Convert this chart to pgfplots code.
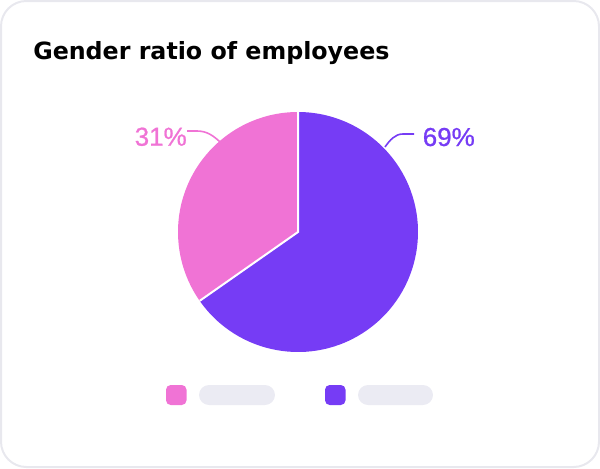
\documentclass[border=0pt]{standalone}
\usepackage{pgfplots}
\pgfplotsset{compat=1.18}
\usepackage{pgfplotstable}
\usepackage{fontspec}
\setmainfont{Liberation Sans}
\newfontfamily\titlefont{DejaVu Sans}
\newfontfamily\labelfont[FakeBold=0.8]{Liberation Sans}
\definecolor{pinkc}{HTML}{F073D5}
\definecolor{purplec}{HTML}{763CF5}
\definecolor{greybar}{HTML}{EBEBF3}
\definecolor{cardline}{HTML}{E8E8EE}
% slice boundaries (degrees, counter-clockwise from the x axis) as drawn
\pgfplotstableread{
label  share start end
Female 31    90    215
Male   69    215   450
}\slices
\pgfplotstablegetelem{0}{start}\of\slices \let\sa\pgfplotsretval
\pgfplotstablegetelem{0}{end}\of\slices \let\ea\pgfplotsretval
\pgfplotstablegetelem{1}{start}\of\slices \let\sb\pgfplotsretval
\pgfplotstablegetelem{1}{end}\of\slices \let\eb\pgfplotsretval
\begin{document}
\begin{tikzpicture}
\begin{scope}[x=0.75pt,y=-0.75pt]
\useasboundingbox (0,0) rectangle (600,468);
\draw[cardline, line width=1.5pt, rounded corners=19pt] (1,1) rectangle (599,467);
\end{scope}
\begin{axis}[
  hide axis, clip=false, scale only axis,
  width=180pt, height=180pt,
  xmin=-1, xmax=1, ymin=-1, ymax=1,
  at={(223.5pt,-174pt)}, anchor=origin]
\fill[pinkc] (axis cs:0,0) -- (axis cs:{cos(\sa)},{sin(\sa)}) arc[start angle=\sa, end angle=\ea, radius=90pt] -- cycle;
\fill[purplec] (axis cs:0,0) -- (axis cs:{cos(\sb)},{sin(\sb)}) arc[start angle=\sb, end angle=\eb, radius=90pt] -- cycle;
\draw[white, line width=1.5pt] (axis cs:{cos(\sa)},{sin(\sa)}) -- (axis cs:0,0) -- (axis cs:{cos(\ea)},{sin(\ea)});
\end{axis}
\begin{scope}[x=0.75pt,y=-0.75pt]
\node[anchor=base west, inner sep=0pt, font=\titlefont\bfseries\fontsize{17.8pt}{20pt}\selectfont] at (33,59.3) {Gender ratio of employees};
\draw[pinkc, line width=1.2pt] (187,131) -- (197,131) .. controls (207,131) and (214,136) .. (221,143);
\draw[purplec, line width=1.2pt] (414,134) -- (403,134) .. controls (395,134) and (390,140) .. (385,147);
\node[anchor=base east, inner sep=0pt, text=pinkc, font=\labelfont\fontsize{19.5pt}{22pt}\selectfont] at (187,145.7) {31\%};
\node[anchor=base west, inner sep=0pt, text=purplec, font=\labelfont\fontsize{19.5pt}{22pt}\selectfont] at (422.5,146) {69\%};
\fill[pinkc, rounded corners=3.5pt] (166,385) rectangle (186.5,405);
\fill[greybar, rounded corners=7.5pt] (199,385) rectangle (275,405);
\fill[purplec, rounded corners=3.5pt] (325,385) rectangle (345.5,405);
\fill[greybar, rounded corners=7.5pt] (358,385) rectangle (433,405);
\end{scope}
\end{tikzpicture}
\end{document}
